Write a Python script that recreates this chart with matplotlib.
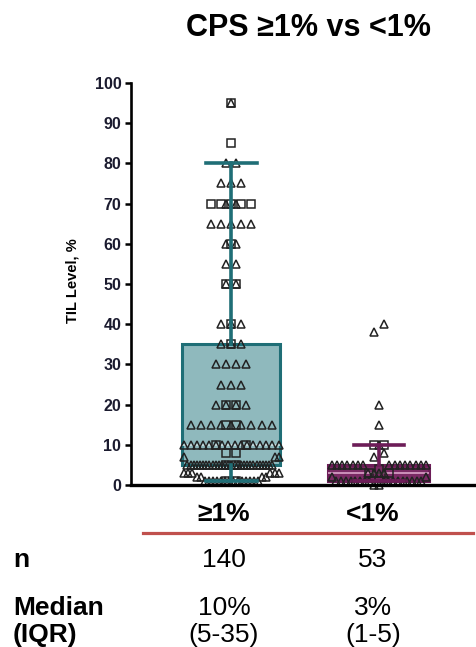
#!/usr/bin/env python3
import numpy as np
import matplotlib
matplotlib.use("Agg")
import matplotlib.pyplot as plt
from matplotlib.lines import Line2D

plt.rcParams['font.family'] = ['Liberation Sans', 'DejaVu Sans']

# TIL level (%) per patient, split by marker type, as level -> count
pos_tri_levels = [95, 80, 75, 70, 65, 60, 55, 50, 40, 35, 30, 25, 20, 15, 10, 7, 5, 3, 2, 1]
pos_tri_counts = [1, 2, 3, 2, 5, 2, 2, 2, 3, 3, 4, 3, 4, 9, 16, 3, 28, 6, 4, 14]
pos_sq_levels = [95, 85, 70, 60, 50, 40, 35, 20, 15, 10, 8, 5, 1]
pos_sq_counts = [1, 1, 5, 1, 2, 1, 1, 2, 2, 2, 2, 2, 2]

neg_tri_levels = [40, 38, 20, 15, 10, 8, 7, 5, 3, 2, 1, 0]
neg_tri_counts = [1, 1, 1, 1, 1, 1, 1, 15, 4, 2, 17, 2]
neg_sq_levels = [10, 4, 3, 1]
neg_sq_counts = [2, 1, 2, 1]

# box summary: median (IQR), whiskers
groups = ["≥1%", "<1%"]
n_patients = [140, 53]
box_q1 = [5, 1]
box_med = [10, 3]
box_q3 = [35, 5]
whisker_lo = [1, 1]
whisker_hi = [80, 10]

edge_colors = ['#1f6e76', '#6d1d58']
fill_colors = ['#8fb9bd', '#7a2a64']
median_colors = ['#cfe3e5', '#d9a3c8']


def swarm(levels, counts, center, step=0.068, max_width=0.64, window=2.0):
    """Spread values of one column into rows, lowest values nearest the centre."""
    vals = np.sort(np.repeat(levels, counts).astype(float))
    xs, ys = [], []
    i = 0
    while i < len(vals):
        j = i
        while j < len(vals) and vals[j] <= vals[i] + window + 1e-9:
            j += 1
        row = vals[i:j]
        k = len(row)
        sp = step if k == 1 else min(step, max_width / (k - 1))
        slots = (np.arange(k) - (k - 1) / 2) * sp
        slots = slots[np.argsort(np.abs(slots), kind='stable')]
        xs.extend(center + slots)
        ys.extend(row)
        i = j
    return np.array(xs), np.array(ys)


fig = plt.figure(figsize=(4.77, 6.47), dpi=100)
ax = fig.add_axes([131 / 477, 162 / 647, 346 / 477, 402 / 647])

stats = []
for k in range(2):
    stats.append(dict(med=box_med[k], q1=box_q1[k], q3=box_q3[k],
                      whislo=whisker_lo[k], whishi=whisker_hi[k], label=groups[k]))
bp = ax.bxp(stats, positions=[1, 2], widths=[0.665, 0.685], patch_artist=True,
            showfliers=False, capwidths=[0.34, 0.34])
for k in range(2):
    box = bp['boxes'][k]
    box.set_facecolor(fill_colors[k])
    box.set_edgecolor(edge_colors[k])
    box.set_linewidth(2.2)
    box.set_zorder(1)
    bp['medians'][k].set(color=median_colors[k], linewidth=1.2, zorder=1.5)
    for w in bp['whiskers'][2 * k:2 * k + 2]:
        w.set(color=edge_colors[k], linewidth=2.6, zorder=4)
    for c in bp['caps'][2 * k:2 * k + 2]:
        c.set(color=edge_colors[k], linewidth=2.6, zorder=4)

marker_kw = dict(linestyle='none', mfc='none', mec='#222222', mew=1.1,
                 clip_on=False, zorder=3)
for center, tl, tc, sl, sc in [(1, pos_tri_levels, pos_tri_counts, pos_sq_levels, pos_sq_counts),
                               (2, neg_tri_levels, neg_tri_counts, neg_sq_levels, neg_sq_counts)]:
    x, y = swarm(sl, sc, center)
    ax.plot(x, y, 's', ms=5.2, **marker_kw)
    x, y = swarm(tl, tc, center)
    ax.plot(x, y, '^', ms=5.8, **marker_kw)

ax.set_xlim(0.319, 2.665)
ax.set_ylim(0, 100)
ax.set_yticks(np.arange(0, 101, 10))
ax.set_xticks([])
for s in ['top', 'right']:
    ax.spines[s].set_visible(False)
ax.spines['left'].set_linewidth(1.9)
ax.spines['bottom'].set_linewidth(2.4)
ax.spines['bottom'].set_zorder(5)
ax.tick_params(axis='y', length=4, width=1.8, direction='out', pad=3,
               labelsize=11.5, labelcolor='#1b1b2f')
for lab in ax.get_yticklabels():
    lab.set_fontweight('bold')
ax.patch.set_alpha(0)

fig.text(73 / 477, 1 - 281 / 647, "TIL Level, %", rotation=90, ha='center', va='center',
         fontsize=10.5, fontweight='bold')
fig.text(308 / 477, 1 - 28.5 / 647, "CPS ≥1% vs <1%", ha='center', va='center',
         fontsize=22, fontweight='bold')

# summary table under the plot
label_x = [224 / 477, 373 / 477]
for k in range(2):
    fig.text(label_x[k], 1 - 521 / 647, groups[k], ha='center', va='baseline',
             fontsize=19, fontweight='bold')
    fig.text(label_x[k], 1 - 567 / 647, str(n_patients[k]), ha='center', va='baseline',
             fontsize=19)
    fig.text(label_x[k], 1 - 615 / 647, f"{box_med[k]}%", ha='center', va='baseline',
             fontsize=19)
    fig.text(label_x[k], 1 - 642 / 647, f"({box_q1[k]}-{box_q3[k]})", ha='center',
             va='baseline', fontsize=19)

fig.add_artist(Line2D([143 / 477, 473 / 477], [1 - 533 / 647, 1 - 533 / 647],
                      color='#c0504d', linewidth=2.3))
fig.text(13 / 477, 1 - 567 / 647, "n", ha='left', va='baseline', fontsize=19, fontweight='bold')
fig.text(13 / 477, 1 - 615 / 647, "Median", ha='left', va='baseline', fontsize=19,
         fontweight='bold')
fig.text(13 / 477, 1 - 642 / 647, "(IQR)", ha='left', va='baseline', fontsize=19,
         fontweight='bold')

fig.savefig("out.png", dpi=100)
